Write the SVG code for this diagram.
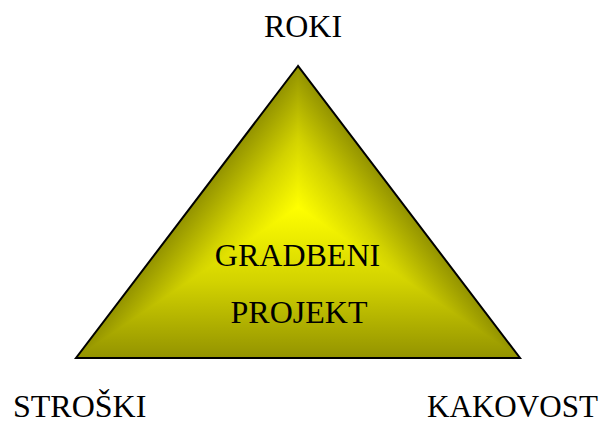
<svg xmlns="http://www.w3.org/2000/svg" width="602" height="425" viewBox="0 0 602 425">
  <style>
    .lbl { font-family: "Liberation Serif", "Times New Roman", serif; font-size: 32px; fill: #000; }
  </style>
  <defs>
    <!-- path-style shading: each band runs from the bright centre (298,207) out to one edge -->
    <linearGradient id="shadeBottom" gradientUnits="userSpaceOnUse" x1="298" y1="207" x2="298" y2="358">
      <stop offset="0" stop-color="#ffff00"/>
      <stop offset="0.5" stop-color="#d2d200"/>
      <stop offset="1" stop-color="#939300"/>
    </linearGradient>
    <linearGradient id="shadeLeft" gradientUnits="userSpaceOnUse" x1="298" y1="207" x2="230.1" y2="155.4">
      <stop offset="0" stop-color="#ffff00"/>
      <stop offset="0.5" stop-color="#d2d200"/>
      <stop offset="1" stop-color="#939300"/>
    </linearGradient>
    <linearGradient id="shadeRight" gradientUnits="userSpaceOnUse" x1="298" y1="207" x2="365.9" y2="155.4">
      <stop offset="0" stop-color="#ffff00"/>
      <stop offset="0.5" stop-color="#d2d200"/>
      <stop offset="1" stop-color="#939300"/>
    </linearGradient>
  </defs>
  <rect width="602" height="425" fill="#fff"/>
  <g id="triangle">
    <polygon points="298,66 76,358 520,358" fill="url(#shadeBottom)"/>
    <polygon points="298,207 298,66 76,358" fill="url(#shadeLeft)"/>
    <polygon points="298,207 298,66 520,358" fill="url(#shadeRight)"/>
    <polygon points="298,66 76,358 520,358" fill="none" stroke="#000" stroke-width="2"/>
    <text class="lbl" x="297.5" y="266" text-anchor="middle">GRADBENI</text>
    <text class="lbl" x="299" y="323" text-anchor="middle">PROJEKT</text>
  </g>
  <g id="roki"><text class="lbl" x="303" y="37" text-anchor="middle">ROKI</text></g>
  <g id="stroski"><text class="lbl" x="13" y="417">STROŠKI</text></g>
  <g id="kakovost"><text class="lbl" x="427" y="417" textLength="171" lengthAdjust="spacingAndGlyphs">KAKOVOST</text></g>
</svg>
